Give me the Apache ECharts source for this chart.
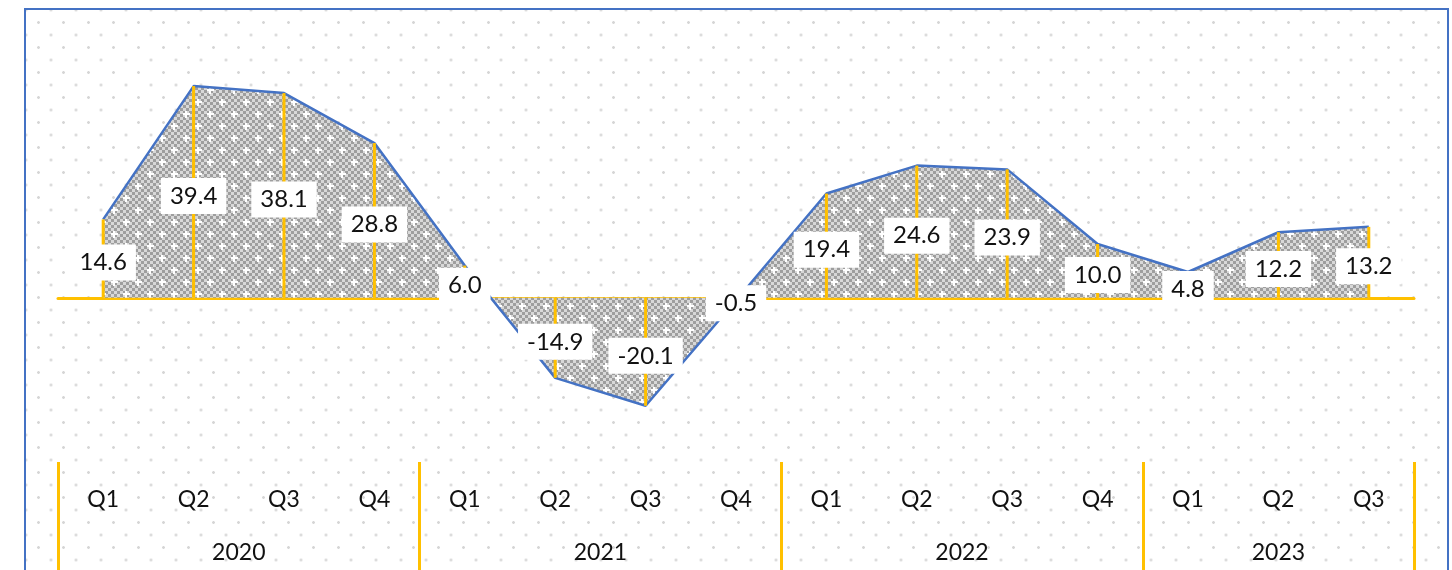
<!DOCTYPE html>
<html>
<head>
<meta charset="utf-8">
<script src="https://cdn.jsdelivr.net/npm/echarts@6/dist/echarts.min.js"></script>
<style>
    html, body { margin: 0; padding: 0; overflow: hidden; background: #fff; }
    #frame {
        position: absolute; left: 24px; top: 8px; width: 1421px; height: 620px;
        border: 2px solid #4472c4;
        background-color: #fff;
        background-image: radial-gradient(circle, #d6d6d6 1px, transparent 1.7px),
                          radial-gradient(circle, #d6d6d6 1px, transparent 1.7px);
        background-size: 25px 25px;
        background-position: 0 0, 12.5px 12.5px;
    }
    #chart { position: absolute; left: 0; top: 0; width: 1452px; height: 570px; }
</style>
</head>
<body>
<div id="frame"></div>
<div id="chart"></div>
<script>
var quarters = ['Q1', 'Q2', 'Q3', 'Q4', 'Q1', 'Q2', 'Q3', 'Q4', 'Q1', 'Q2', 'Q3', 'Q4', 'Q1', 'Q2', 'Q3'];
var years = ['2020', '2021', '2022', '2023'];
var quartersPerYear = [4, 4, 4, 3];
var growth = [14.6, 39.4, 38.1, 28.8, 6.0, -14.9, -20.1, -0.5, 19.4, 24.6, 23.9, 10.0, 4.8, 12.2, 13.2];

// year axis: two slots per quarter so the year name can sit on the middle point of its group
var slots = [], slotNames = [];
for (var i = 0; i <= quarters.length * 2; i++) { slots.push(String(i)); slotNames.push(''); }
var edges = [0], pos = 0;
years.forEach(function (y, k) {
    slotNames[pos + quartersPerYear[k]] = y;
    pos += quartersPerYear[k] * 2;
    edges.push(pos);
});

// grey checker fill with small white crosses, like the excel pattern
function makeShade() {
    var c = document.createElement('canvas');
    c.width = 24; c.height = 24;
    var g = c.getContext('2d');
    for (var y = 0; y < 24; y += 3) {
        for (var x = 0; x < 24; x += 3) {
            g.fillStyle = ((x + y) / 3) % 2 ? '#d8d8d8' : '#9e9e9e';
            g.fillRect(x, y, 3, 3);
        }
    }
    g.fillStyle = '#fff';
    [[6, 6], [18, 18]].forEach(function (p) {
        g.fillRect(p[0] - 3, p[1] - 1, 7, 2);
        g.fillRect(p[0] - 1, p[1] - 3, 2, 7);
    });
    return c;
}

var chart = echarts.init(document.getElementById('chart'));
var option = {
    animation: false,
    textStyle: { fontFamily: 'Lato' },
    grid: { left: 58, right: 38, top: 56, bottom: 111 },
    xAxis: [
        {
            type: 'category',
            data: quarters.map(function (q, i) { return i; }),
            axisLine: { onZero: true, onZeroAxisIndex: 0, lineStyle: { color: '#ffc000', width: 3 } },
            axisTick: { show: false },
            axisLabel: { show: false }
        },
        {
            type: 'category',
            position: 'bottom',
            data: quarters,
            axisLine: { show: false },
            axisTick: { show: false },
            axisLabel: { interval: 0, margin: 29, fontSize: 23, color: '#111' }
        },
        {
            type: 'category',
            position: 'bottom',
            offset: 111,
            boundaryGap: false,
            data: slots,
            axisLine: { show: false },
            axisTick: {
                inside: true, length: 108,
                interval: function (idx) { return edges.indexOf(idx) >= 0; },
                lineStyle: { color: '#ffc000', width: 3 }
            },
            axisLabel: {
                inside: true, interval: 0, margin: 6, fontSize: 23, color: '#111',
                formatter: function (v, idx) { return slotNames[idx]; }
            }
        }
    ],
    yAxis: [
        { type: 'value', min: -30, max: 45, interval: 15, show: false }
    ],
    series: [
        {
            type: 'line',
            data: growth,
            symbol: 'none',
            z: 2,
            lineStyle: { color: '#4472c4', width: 2.5 },
            areaStyle: { color: { image: makeShade(), repeat: 'repeat' }, opacity: 1 }
        },
        {
            // drop lines from the axis to the point, carrying the value labels
            type: 'bar',
            data: growth,
            barWidth: 3,
            z: 4,
            itemStyle: { color: '#ffc000' },
            label: {
                show: true,
                position: 'inside',
                offset: [0, 4],
                formatter: function (p) { return p.value.toFixed(1); },
                backgroundColor: '#fff',
                padding: [7, 9, 5, 9],
                fontSize: 24,
                color: '#111'
            }
        }
    ]
};
chart.setOption(option);
</script>
</body>
</html>
